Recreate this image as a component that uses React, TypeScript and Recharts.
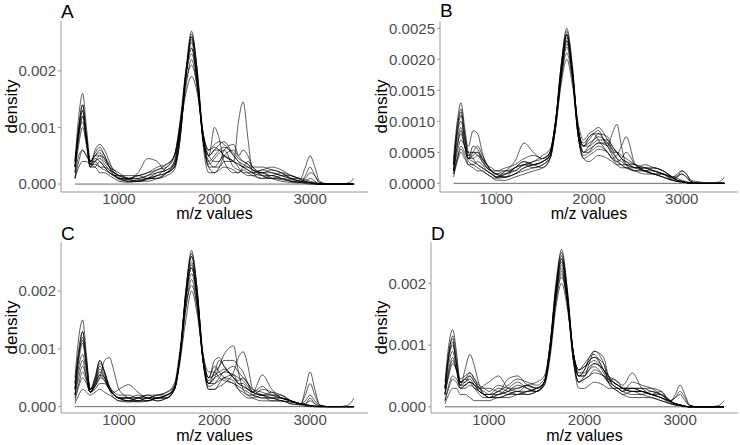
import React from "react";
import { LineChart, Line, XAxis, YAxis, ReferenceLine } from "recharts";

// m/z grid shared by every density curve (denser around the peaks)
const MZ = [
  540, 580, 620, 660, 700,
  750, 800, 850, 900, 950, 1000,
  1100, 1200, 1300, 1400, 1500,
  1580, 1640, 1700, 1760, 1820, 1880, 1940,
  2000, 2050, 2100, 2200, 2250, 2300, 2350, 2400,
  2500, 2600, 2700, 2800, 2900,
  2950, 3000, 3050, 3100,
  3200, 3300, 3400, 3460,
];

// density values in units of 1e-4
const A1 = [4, 12, 16, 10, 4, 3, 4, 3, 2, 1.5, 1, 0.5, 0.8, 1, 1.5, 2, 3, 8, 19, 26, 19, 8, 5, 10, 8, 4, 2, 2, 2.5, 2, 1.5, 1, 1.5, 1, 0.5, 0.3, 0.2, 0.2, 0.1, 0, 0, 0, 0, 0];
const A2 = [3, 10, 14, 9, 4, 5, 6, 5, 3, 2, 1.2, 0.5, 0.5, 1, 2, 2.5, 3.5, 9, 19, 25, 18, 8, 4, 3, 3, 4, 4, 11, 14.5, 8, 2, 1, 1, 0.8, 0.5, 0.3, 0.1, 0, 0, 0, 0, 0, 0, 0];
const A3 = [2, 9, 13, 8, 3, 6, 7, 6, 4, 2, 1, 0.8, 1.5, 1, 1, 2, 4, 10, 20, 27, 20, 9, 5, 6, 6, 5, 4, 3, 2, 2, 2, 2.5, 2, 1.5, 1, 1, 3, 5, 3, 0.5, 0, 0, 0.2, 1];
const A4 = [1, 5, 6, 5, 4, 5, 5, 4, 3, 2.5, 2, 1, 2, 4.5, 4, 2, 3, 9, 17, 22, 17, 8, 5, 6, 7, 7.5, 5, 4, 3, 2.5, 2, 1.5, 1.5, 1, 0.8, 0.5, 0.3, 0.2, 0, 0, 0, 0, 0, 0];
const A5 = [3, 9, 12, 8, 4, 4, 3, 2.5, 2, 1.5, 1.5, 1, 0.5, 0.8, 1.5, 3, 5, 11, 20, 24, 18, 8, 3, 2, 3, 5, 6, 5, 6, 5, 3, 2, 2.5, 2, 1, 0.5, 1, 2, 1.5, 0.3, 0, 0, 0, 0];
const A6 = [1, 3, 4, 4, 3.5, 4.5, 4, 3, 2, 1.5, 1, 1, 1, 1.5, 2.5, 3, 5, 10, 16, 19, 16, 9, 6, 6.5, 6, 5, 4, 3.5, 3, 2.5, 2, 2.5, 3, 2.5, 1.5, 1, 0.8, 0.5, 0.3, 0.1, 0, 0, 0, 0];
const A7 = [4, 9, 11, 7, 3, 3, 2, 2, 1.5, 1, 0.5, 0.3, 0.5, 1, 1, 1.5, 2.5, 8, 19, 26.5, 20, 7, 2, 2, 2.5, 3, 2.5, 2, 3, 4, 3, 1.5, 1, 1, 0.5, 0.3, 1.5, 3, 1.5, 0.2, 0, 0, 0, 0];
const A8 = [1, 4, 6, 5, 4, 5.5, 6.5, 5, 3.5, 2.5, 1.5, 1, 1, 1.5, 2, 2.5, 4, 10, 19, 23, 18, 9, 5, 4, 4, 6, 7, 5, 4, 3.5, 2.5, 2, 1.5, 2, 1.5, 0.8, 0.5, 0.3, 0.2, 0, 0, 0, 0, 0];
const A9 = [3, 10, 14, 8, 3.5, 4, 4.5, 3.5, 2.5, 1.5, 1, 0.8, 0.5, 0.5, 1, 2, 3.5, 9, 19.5, 25.5, 19, 8, 3.5, 4.5, 5.5, 6, 3, 2.5, 2, 1.5, 1.5, 2, 1, 0.5, 0.3, 0.2, 0.5, 1, 0.5, 0, 0, 0, 0, 0];
const A10 = [3, 8, 12, 8, 4, 5, 5.5, 4.5, 3, 2, 1.5, 1, 1.5, 2, 2.5, 3.5, 5, 10, 19, 24, 18, 8, 4, 5, 6, 6.5, 5.5, 4.5, 4, 3.5, 3, 3, 2.5, 2, 1, 0.5, 0.3, 0.2, 0.1, 0, 0, 0, 0, 0];
const A11 = [2, 7, 10, 7, 3.5, 3.5, 3, 3, 2.5, 2, 1.5, 1.5, 1.5, 2, 3, 3.5, 5, 11, 18, 21, 17, 9, 6, 7, 7.5, 7, 5, 4, 3.5, 3, 2.5, 1.5, 1, 1.5, 1.5, 0.8, 0.5, 0.3, 0.1, 0, 0, 0, 0, 0];
const A12 = [4, 10, 13, 8, 3, 4, 5, 4.5, 3, 1.5, 0.8, 0.5, 0.5, 1, 1.5, 2, 3, 8, 19, 26, 19.5, 8, 3, 3, 4, 5, 4, 3.5, 3, 3, 2.5, 2, 2, 1.5, 1, 0.5, 0.3, 0.2, 0, 0, 0, 0, 0, 0];

const B1 = [4, 10, 13, 9, 5, 4, 3, 2.5, 2, 1.5, 1, 1.5, 2, 3, 3.5, 4, 5, 10, 19, 25, 19, 9, 6, 7, 8, 8.5, 6, 8, 9.5, 6, 3, 2, 2, 1.5, 1, 0.5, 1, 2, 1.5, 0.3, 0, 0, 0, 0];
const B2 = [3, 8, 11, 7, 6, 8.5, 8, 5, 3, 2, 1.5, 1, 1.5, 2.5, 3, 3.5, 5, 10, 18, 23, 18, 9, 6, 7.5, 8, 7, 5, 4, 3.5, 4, 5, 3, 2, 1.5, 1, 0.5, 0.3, 0.2, 0.1, 0, 0, 0, 0, 0];
const B3 = [2, 6, 8, 6, 4, 3.5, 3, 2.5, 2, 1.5, 1, 2, 3.5, 6.5, 5, 4, 5, 10, 18, 24, 18, 8, 4, 4.5, 5, 5.5, 5, 4, 4.5, 6, 7.5, 3, 2, 2.5, 2, 1, 0.5, 0.3, 0.1, 0, 0, 0, 0.2, 1];
const B4 = [2, 5, 7, 6, 5, 5, 4.5, 3.5, 2.5, 2, 2, 2.5, 3, 4, 4.5, 4, 5, 10, 17, 21, 17, 10, 7, 8, 8.5, 9, 7, 5.5, 4, 3, 2.5, 2, 2.5, 2.5, 2, 1, 0.8, 0.5, 0.3, 0.1, 0, 0, 0, 0];
const B5 = [1, 3.5, 5, 4, 3, 3, 3.5, 3, 2, 1.5, 1, 1, 1.5, 2, 2.5, 3, 4, 9, 17, 22.5, 18, 9, 5, 5, 5.5, 6, 5, 4, 3, 2.5, 2.5, 2, 1.5, 1.5, 1.5, 1, 1.5, 2, 1.5, 0.5, 0.2, 0, 0, 0];
const B6 = [3, 8, 10, 7, 4, 4.5, 5, 4, 3, 2, 1.5, 2, 2, 3, 2.5, 3, 4.5, 10, 19, 24.5, 19, 9, 5, 5.5, 6, 6.5, 6, 5, 5, 4.5, 4, 3, 2, 1.5, 1.5, 0.8, 0.5, 0.3, 0.2, 0, 0, 0, 0, 0];
const B7 = [2, 7, 9, 6, 3.5, 3, 2.5, 2, 1.5, 1, 0.5, 0.5, 1, 1.5, 2, 2.5, 4, 9, 16, 20, 16, 9, 6, 6, 6.5, 7, 7, 6, 5, 4, 3, 2.5, 2, 2, 1.5, 1, 0.5, 0.3, 0.1, 0, 0, 0, 0, 0];
const B8 = [1.5, 4, 6, 5, 4, 6, 5.5, 4, 2.5, 2, 1.5, 1.5, 2.5, 3.5, 3, 3.5, 4.5, 10, 18, 23.5, 18, 8, 4, 3.5, 4, 4.5, 4, 3.5, 3, 3, 3, 2.5, 2.5, 2, 1.5, 1, 1.2, 1.5, 1, 0.3, 0, 0, 0, 0];
const B9 = [3, 9, 12, 8, 4, 5, 6, 4.5, 3, 2, 1.5, 1, 2.5, 3, 3.5, 4.5, 5.5, 10, 18, 24, 18, 9, 6, 6.5, 7, 7.5, 6.5, 5, 4, 3.5, 3, 3, 2.5, 2, 1.5, 0.8, 1, 1.5, 1, 0.2, 0, 0, 0, 0];
const B10 = [2, 6, 8.5, 6, 4, 4, 4.5, 4, 3, 2.5, 2, 2, 2.5, 3, 3, 3.5, 4.5, 10, 19, 24, 18, 8, 5, 6, 7, 8, 7.5, 6, 5, 4, 3.5, 2.5, 2.5, 2, 1.5, 0.5, 0.3, 0.2, 0.1, 0, 0, 0, 0, 0];
const B11 = [3, 9, 11.5, 8, 4.5, 5, 5, 3.5, 2.5, 2, 1, 1.5, 2.5, 3.5, 3, 2.5, 4, 9, 18, 23, 18, 9, 6.5, 7.5, 8, 8, 6, 4.5, 3.5, 3, 2.5, 2.5, 3, 2.5, 2, 1, 0.5, 0.3, 0.1, 0, 0, 0, 0, 0];
const B12 = [1.5, 4, 5.5, 4.5, 3, 2.5, 2, 2, 1.5, 1, 0.8, 1, 1.5, 2.5, 3, 3.5, 4.5, 9, 17, 22, 17, 8, 4.5, 5, 6, 6.5, 6.5, 5.5, 5, 4, 3.5, 3, 2, 1.5, 1, 0.5, 0.3, 0.2, 0.1, 0, 0, 0, 0, 0];

const C1 = [5, 12, 15, 9, 3, 5, 8, 6, 3, 1.5, 1, 0.8, 1, 1.5, 1.5, 2, 3, 9, 20, 27, 20, 8, 4, 5, 7, 9, 10.5, 6, 3, 2, 1.5, 1, 1, 1, 0.5, 0.3, 0.1, 0, 0, 0, 0, 0, 0, 0];
const C2 = [4, 10, 13, 8, 3, 3.5, 5, 8, 8.5, 6, 3, 1.5, 1, 1, 1.5, 1.5, 3, 9, 20, 26, 19, 8, 3, 3, 3.5, 4, 6, 8.5, 9.5, 7, 3, 2, 1, 1, 0.5, 0.3, 3, 6, 3, 0.3, 0, 0, 0, 0];
const C3 = [3, 8, 11, 7, 3, 4.5, 7, 5.5, 3, 2.5, 3, 3.8, 2.5, 1.5, 1.5, 2, 3, 9, 19, 25, 19, 8, 4, 6, 8, 7, 5, 4, 4, 3, 2.5, 5.5, 3, 1.5, 1, 0.5, 0.3, 0.2, 0, 0, 0, 0, 0, 0];
const C4 = [2, 7, 9, 6, 3, 5, 8, 6, 3.5, 2, 1.5, 1, 1.5, 2, 2, 2.5, 4, 10, 19, 24, 18, 8, 4, 5, 5.5, 6, 7, 6, 5, 4, 3, 2.5, 2, 2, 1, 0.5, 2, 4, 2, 0.3, 0, 0, 0.3, 1.5];
const C5 = [2, 5, 7, 5, 2.5, 4, 6, 5, 3, 2, 1.5, 1.5, 1.5, 1.5, 2, 2, 3.5, 9, 17, 22, 17, 8, 5, 7, 6, 5, 4, 3.5, 3, 2.5, 2, 3, 2.5, 1.5, 1, 0.5, 0.5, 1, 0.5, 0.1, 0, 0, 0, 0];
const C6 = [1, 3.5, 5, 4, 2.5, 3, 4, 4, 3, 2, 1.5, 1, 1, 1.5, 1, 1.5, 3, 8, 15, 20, 16, 9, 6, 6, 5, 4.5, 4, 3, 2.5, 2, 2, 1.5, 1.5, 1, 0.8, 0.5, 0.3, 0.2, 0.1, 0, 0, 0, 0, 0];
const C7 = [0.5, 2, 3, 2.5, 2, 2.5, 3, 2.5, 2, 1.5, 1, 1, 0.8, 1, 1.5, 1.5, 3, 9, 19, 26, 20, 8, 3, 3, 4, 5, 4.5, 3, 2, 1.5, 1.5, 2, 1.5, 1.5, 1, 0.5, 0.3, 0.2, 0, 0, 0, 0, 0, 0];
const C8 = [4, 9, 12, 7, 2.5, 4, 6.5, 5, 3, 2, 1.5, 1.5, 2, 1.5, 1, 1.5, 3, 9, 19, 24.5, 19, 9, 5, 8, 8.5, 7, 5, 4.5, 5, 4, 2.5, 2, 2, 1.5, 1, 0.5, 0.3, 0.2, 0.1, 0, 0, 0, 0, 0];
const C9 = [3, 9, 13, 8, 2.5, 3.5, 5.5, 4.5, 3, 2, 1.5, 1, 1.5, 2, 1.5, 1.5, 3, 9, 20, 26.5, 20, 8, 3.5, 4, 5, 6, 5.5, 4, 3.5, 3, 2.5, 3.5, 2, 1.5, 1, 0.5, 1, 2, 1, 0.2, 0, 0, 0, 0];
const C10 = [2, 6, 8, 5, 2.5, 4.5, 7.5, 6, 3.5, 2, 1.5, 1.5, 1, 1, 1.5, 2, 3.5, 9, 18, 23, 18, 8, 4.5, 6, 7, 8, 8, 7, 6, 4, 2.5, 2, 1.5, 1, 0.8, 0.5, 0.3, 0.2, 0.1, 0, 0, 0, 0, 0];
const C11 = [3, 9, 11.5, 7, 3, 4, 5.5, 5, 3.5, 2.5, 2, 2, 1.5, 1.5, 2, 2.5, 3.5, 9, 19, 24, 19, 9, 5, 5.5, 6, 6.5, 5, 4, 3.5, 3, 2.5, 2, 2.5, 2, 1, 0.5, 0.3, 0.2, 0, 0, 0, 0, 0, 0];
const C12 = [1.5, 4, 6, 4.5, 2.5, 3.5, 5, 4.5, 3, 2, 1.5, 1.5, 1.5, 1, 1.5, 2, 3, 8, 17, 21, 17, 8, 4, 4, 4.5, 5, 5.5, 5, 4.5, 3.5, 2, 1.5, 1.5, 1.5, 1, 0.5, 0.5, 1.5, 0.5, 0.1, 0, 0, 0, 0];

const D1 = [4, 10, 12.5, 9, 4, 4, 5, 4, 3, 2, 2, 3, 2.5, 2, 2.5, 3, 4, 9, 19, 25.5, 19, 9, 5, 5, 7, 9, 7, 4, 3, 2.5, 2, 2.5, 2, 1.5, 1, 0.5, 0.3, 0.2, 0.1, 0, 0, 0, 0, 0];
const D2 = [3, 9, 11, 7, 3.5, 6, 8.5, 6.5, 3.5, 2, 1.5, 2, 3, 4, 3, 2.5, 4, 10, 19, 24, 18, 9, 6, 7, 8, 8.5, 6, 5, 4.5, 4, 3.5, 5.5, 3, 2, 1.5, 0.8, 0.5, 0.3, 0.1, 0, 0, 0, 0, 0];
const D3 = [2, 7, 9, 6, 3, 3.5, 4, 3.5, 3, 3, 3, 2.5, 4.5, 5, 3.5, 3, 4, 9, 18, 23, 18, 8, 4, 4.5, 5, 6, 5, 4, 3.5, 3, 3, 3, 3, 3, 2.5, 1, 2, 3.5, 2, 0.3, 0, 0, 0, 0];
const D4 = [2, 5, 7, 6, 4, 4.5, 5, 4, 3, 3.5, 4, 5, 3, 2.5, 3.5, 4, 5, 10, 18, 22, 17, 9, 5, 5, 6, 7, 6, 5, 4, 3.5, 3, 2.5, 2.5, 2, 2, 1, 0.5, 0.3, 0.1, 0, 0, 0, 0.2, 1];
const D5 = [1, 3.5, 5, 4.5, 3.5, 4, 4.5, 3.5, 2.5, 2, 1.5, 1.5, 2, 2.5, 2, 2.5, 3.5, 8, 16, 20, 16, 9, 6, 6.5, 7, 7.5, 5.5, 4, 3, 3, 2.5, 2, 2, 2.5, 2, 1, 0.5, 0.3, 0.1, 0, 0, 0, 0, 0];
const D6 = [0.5, 2, 3, 3, 2, 2, 1.5, 1, 1, 1, 1, 1.5, 1.5, 2, 2.5, 3, 4, 9, 17, 21, 17, 8, 3, 3, 3.5, 4, 3.5, 3, 3, 2.5, 2, 1.5, 1.5, 1.5, 1, 0.5, 0.3, 0.2, 0, 0, 0, 0, 0, 0];
const D7 = [3, 8, 10, 7, 3, 3, 3.5, 3, 2.5, 2, 1.5, 2, 2.5, 3, 3.5, 3, 4, 10, 20, 25, 19, 9, 5, 6, 8, 9, 8, 5, 3.5, 3, 2.5, 4, 3.5, 3, 2, 0.8, 0.5, 0.3, 0.1, 0, 0, 0, 0, 0];
const D8 = [2, 6, 8, 6, 4, 4.5, 4, 3, 2, 1.5, 1.5, 2.5, 2, 2, 2, 2.5, 4, 9, 18, 24, 18, 8, 4, 5, 6, 6.5, 5, 4, 4.5, 4, 3, 2.5, 2.5, 2, 2.5, 1, 1.5, 2, 1, 0.2, 0, 0, 0, 0];
const D9 = [3, 8.5, 11.5, 8, 4, 4.5, 5.5, 4.5, 3, 2.5, 2, 2, 2.5, 3.5, 3, 2.5, 4, 10, 19, 24.5, 18.5, 9, 5, 6, 7.5, 8, 7, 5, 4, 3.5, 3, 3, 3, 2.5, 2, 0.8, 0.5, 0.3, 0.1, 0, 0, 0, 0, 0];
const D10 = [2, 5.5, 7.5, 6, 4.5, 5, 5.5, 4.5, 3.5, 3, 2.5, 3.5, 3, 3, 3.5, 3, 4, 9, 17, 21.5, 17, 9, 5.5, 5.5, 6.5, 7, 6, 4.5, 4, 3.5, 3, 3, 2.5, 2, 1.5, 1, 1.5, 2.5, 1.5, 0.2, 0, 0, 0, 0];
const D11 = [3, 8, 10.5, 7, 3.5, 3.5, 4, 3.5, 2.5, 2, 2, 2.5, 3.5, 4.5, 4, 3.5, 4.5, 10, 19, 23.5, 18, 9, 6, 6.5, 7.5, 8, 6, 4.5, 3.5, 3, 2.5, 3, 2.5, 2, 1.5, 0.5, 0.3, 0.2, 0.1, 0, 0, 0, 0, 0];
const D12 = [1, 3, 4.5, 4, 3, 3.5, 4, 3.5, 2.5, 2, 1.5, 1.5, 2, 2.5, 2.5, 2.5, 3.5, 9, 18, 22.5, 17, 8, 4, 4.5, 5, 5.5, 5, 4.5, 4, 3.5, 3, 2.5, 2.5, 2, 1.5, 0.8, 0.5, 0.3, 0.1, 0, 0, 0, 0, 0];

const TICKS_X = [1000, 2000, 3000];
const TICKS_Y_3 = [0, 0.001, 0.002];
const TICKS_Y_4 = [0, 0.0005, 0.001, 0.0015, 0.002, 0.0025];

const FONT = '"Liberation Sans", Arial, sans-serif';
const AXIS_GREY = "#9a9a9a";

function toRows(curves: number[][]) {
  return MZ.map((mz, i) => {
    const row: Record<string, number> = { mz };
    curves.forEach((c, k) => {
      row["s" + k] = c[i] / 10000;
    });
    return row;
  });
}

type PanelProps = {
  letter: string;
  curves: number[][];
  left: number;
  top: number;
  height: number;
  yAxisWidth: number;
  marginTop: number;
  xAxisHeight: number;
  titleOffset: number;
  yDomain: [number, number];
  yTicks: number[];
  digits: number;
  letterTop: number;
};

function Panel(p: PanelProps) {
  const rows = toRows(p.curves);
  return (
    <div style={{ position: "absolute", left: p.left, top: p.top, width: 370, height: p.height }}>
      <LineChart
        width={370}
        height={p.height}
        data={rows}
        margin={{ top: p.marginTop, right: 2, bottom: 0, left: 0 }}
      >
        <XAxis
          dataKey="mz"
          type="number"
          domain={[394, 3606]}
          ticks={TICKS_X}
          allowDataOverflow
          height={p.xAxisHeight}
          stroke={AXIS_GREY}
          tickSize={3}
          tickMargin={-2}
          tick={{ fill: "#4d4d4d", fontSize: 15, fontFamily: FONT }}
          label={{
            value: "m/z values",
            position: "insideBottom",
            offset: p.titleOffset,
            style: { fill: "#000", fontSize: 16, fontFamily: FONT },
          }}
        />
        <YAxis
          type="number"
          domain={p.yDomain}
          ticks={p.yTicks}
          allowDataOverflow
          width={p.yAxisWidth}
          stroke={AXIS_GREY}
          tickSize={3}
          tickMargin={2}
          tickFormatter={(v: number) => v.toFixed(p.digits)}
          tick={{ fill: "#4d4d4d", fontSize: 15, fontFamily: FONT }}
          label={{
            value: "density",
            angle: -90,
            position: "insideLeft",
            offset: 11,
            style: { textAnchor: "middle", fill: "#000", fontSize: 17, fontFamily: FONT },
          }}
        />
        <ReferenceLine
          segment={[
            { x: MZ[0], y: 0 },
            { x: MZ[MZ.length - 1], y: 0 },
          ]}
          stroke="#444"
          strokeWidth={0.8}
          ifOverflow="visible"
        />
        {p.curves.map((_, k) => (
          <Line
            key={k}
            dataKey={"s" + k}
            type="monotone"
            stroke="#000"
            strokeWidth={0.8}
            strokeOpacity={0.8}
            dot={false}
            activeDot={false}
            isAnimationActive={false}
          />
        ))}
      </LineChart>
      <div
        style={{
          position: "absolute",
          left: p.yAxisWidth,
          top: p.letterTop,
          fontSize: 19,
          lineHeight: "19px",
          fontFamily: FONT,
          color: "#000",
        }}
      >
        {p.letter}
      </div>
    </div>
  );
}

export default function App() {
  return (
    <div style={{ position: "absolute", left: 0, top: 0, width: 740, height: 445, background: "#fff" }}>
      <Panel
        letter="A"
        curves={[A1, A2, A3, A4, A5, A6, A7, A8, A9, A10, A11, A12]}
        left={0}
        top={0}
        height={222}
        yAxisWidth={61}
        marginTop={21}
        xAxisHeight={30}
        titleOffset={3}
        yDomain={[-0.00014, 0.00288]}
        yTicks={TICKS_Y_3}
        digits={3}
        letterTop={2}
      />
      <Panel
        letter="B"
        curves={[B1, B2, B3, B4, B5, B6, B7, B8, B9, B10, B11, B12]}
        left={370}
        top={0}
        height={222}
        yAxisWidth={70}
        marginTop={21}
        xAxisHeight={30}
        titleOffset={3}
        yDomain={[-0.00014, 0.002618]}
        yTicks={TICKS_Y_4}
        digits={4}
        letterTop={1}
      />
      <Panel
        letter="C"
        curves={[C1, C2, C3, C4, C5, C6, C7, C8, C9, C10, C11, C12]}
        left={0}
        top={222}
        height={223}
        yAxisWidth={61}
        marginTop={20}
        xAxisHeight={32}
        titleOffset={4}
        yDomain={[-0.00011, 0.00285]}
        yTicks={TICKS_Y_3}
        digits={3}
        letterTop={2}
      />
      <Panel
        letter="D"
        curves={[D1, D2, D3, D4, D5, D6, D7, D8, D9, D10, D11, D12]}
        left={370}
        top={222}
        height={223}
        yAxisWidth={61}
        marginTop={20}
        xAxisHeight={32}
        titleOffset={4}
        yDomain={[-0.0001, 0.00267]}
        yTicks={TICKS_Y_3}
        digits={3}
        letterTop={2}
      />
    </div>
  );
}
